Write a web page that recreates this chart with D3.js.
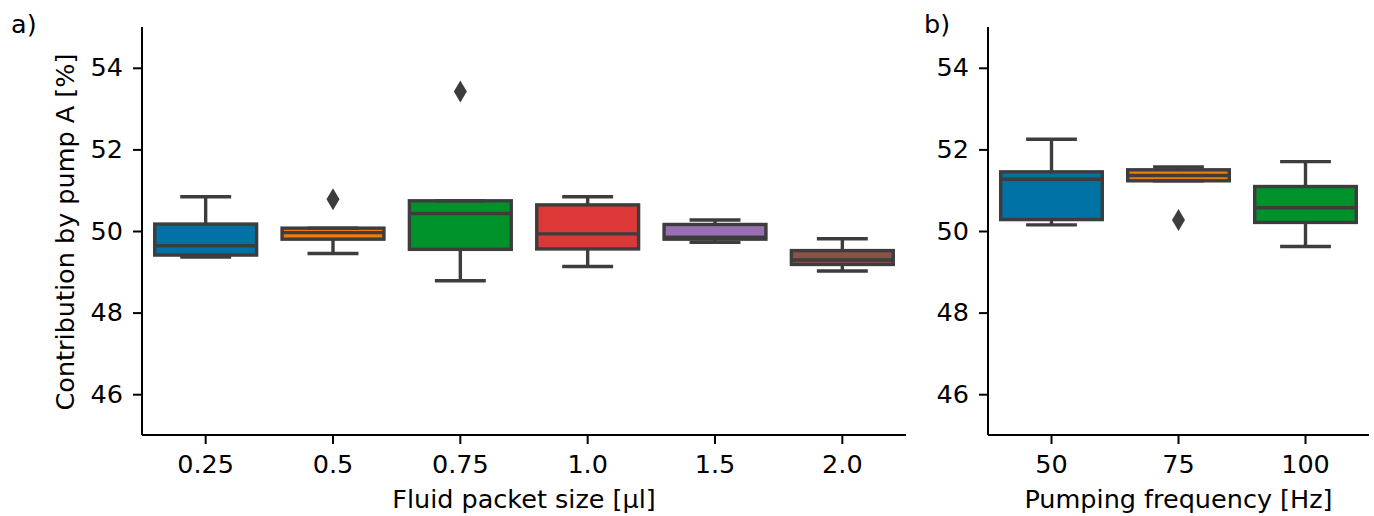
<!DOCTYPE html>
<html>
<head>
<meta charset="utf-8">
<script src="https://cdn.jsdelivr.net/npm/d3@7"></script>
<style>
  body { margin: 0; background: #fff; }
  svg text { font-family: "DejaVu Sans", sans-serif; fill: #000; }
</style>
</head>
<body>
<svg id="chart" width="1374" height="516"></svg>
<script>
// Panel a) fluid packet size
const sizeCats = ["0.25", "0.5", "0.75", "1.0", "1.5", "2.0"];
const sizeLow  = [49.36, 49.45, 48.78, 49.13, 49.72, 49.02];
const sizeQ1   = [49.41, 49.80, 49.55, 49.56, 49.80, 49.18];
const sizeMed  = [49.64, 49.96, 50.43, 49.93, 49.85, 49.29];
const sizeQ3   = [50.17, 50.07, 50.74, 50.64, 50.16, 49.52];
const sizeHigh = [50.84, 50.07, 50.74, 50.84, 50.27, 49.81];
const sizeOut  = [[], [50.78], [53.42], [], [], []];

// Panel b) pumping frequency
const freqCats = ["50", "75", "100"];
const freqLow  = [50.15, 51.23, 49.62];
const freqQ1   = [50.28, 51.23, 50.21];
const freqMed  = [51.27, 51.36, 50.57];
const freqQ3   = [51.45, 51.50, 51.09];
const freqHigh = [52.25, 51.57, 51.70];
const freqOut  = [[], [50.27], []];

const yTicks = [46, 48, 50, 52, 54];
const palette = ["#0072a6", "#ee7b0e", "#00922a", "#dc3838", "#9b6fb4", "#8b5248"];
const edge = "#3d3d3d";
const fontSize = "25.5px";

const svg = d3.select("#chart");
const plotTop = 27, plotBottom = 435;

const y = d3.scaleLinear().domain([45, 55]).range([plotBottom, plotTop]);

function drawPanel(cats, low, q1, med, q3, high, outs, x0, x1, xLabel, letter, letterX) {
    const g = svg.append("g");

    const x = d3.scaleBand()
        .domain(cats)
        .range([x0, x1])
        .paddingInner(0.2)
        .paddingOuter(0.1);

    const stats = cats.map((c, i) => ({
        cat: c, low: low[i], q1: q1[i], med: med[i], q3: q3[i], high: high[i],
        outs: outs[i], color: palette[i]
    }));

    const bw = x.bandwidth();
    const box = g.selectAll("g.box")
        .data(stats)
        .enter()
        .append("g")
        .attr("class", "box");

    // boxes
    box.append("rect")
        .attr("x", d => x(d.cat))
        .attr("y", d => y(d.q3))
        .attr("width", bw)
        .attr("height", d => y(d.q1) - y(d.q3))
        .attr("fill", d => d.color)
        .attr("stroke", edge)
        .attr("stroke-width", 3.4);

    // whiskers
    box.append("line")
        .attr("x1", d => x(d.cat) + bw / 2)
        .attr("x2", d => x(d.cat) + bw / 2)
        .attr("y1", d => y(d.q3))
        .attr("y2", d => y(d.high))
        .attr("stroke", edge).attr("stroke-width", 3.4);
    box.append("line")
        .attr("x1", d => x(d.cat) + bw / 2)
        .attr("x2", d => x(d.cat) + bw / 2)
        .attr("y1", d => y(d.q1))
        .attr("y2", d => y(d.low))
        .attr("stroke", edge).attr("stroke-width", 3.4);

    // caps
    ["high", "low"].forEach(k => {
        box.append("line")
            .attr("x1", d => x(d.cat) + bw / 4)
            .attr("x2", d => x(d.cat) + bw * 3 / 4)
            .attr("y1", d => y(d[k]))
            .attr("y2", d => y(d[k]))
            .attr("stroke", edge).attr("stroke-width", 3.4);
    });

    // medians
    box.append("line")
        .attr("x1", d => x(d.cat))
        .attr("x2", d => x(d.cat) + bw)
        .attr("y1", d => y(d.med))
        .attr("y2", d => y(d.med))
        .attr("stroke", edge).attr("stroke-width", 3.4);

    // outliers (thin diamonds)
    box.selectAll("path.out")
        .data(d => d.outs.map(v => ({ cat: d.cat, v: v })))
        .enter()
        .append("path")
        .attr("class", "out")
        .attr("d", "M0,-11L6.5,0L0,11L-6.5,0Z")
        .attr("transform", d => `translate(${x(d.cat) + bw / 2},${y(d.v)})`)
        .attr("fill", edge);

    // axes
    const xAxis = g.append("g")
        .attr("transform", `translate(0,${plotBottom})`)
        .call(d3.axisBottom(x).tickSizeOuter(0).tickSize(9).tickPadding(11));
    const yAxis = g.append("g")
        .attr("transform", `translate(${x0},0)`)
        .call(d3.axisLeft(y).tickValues(yTicks).tickSizeOuter(0).tickSize(9).tickPadding(10));

    [xAxis, yAxis].forEach(a => {
        a.select(".domain").attr("stroke", "#000").attr("stroke-width", 2);
        a.selectAll(".tick line").attr("stroke", "#000").attr("stroke-width", 2);
        a.selectAll(".tick text").style("font-size", fontSize).attr("fill", "#000");
    });
    xAxis.select(".domain").attr("d", `M${x0},0H${x1}`);
    yAxis.select(".domain").attr("d", `M0,${plotTop}V${plotBottom}`);

    g.append("text")
        .attr("x", (x0 + x1) / 2)
        .attr("y", 508)
        .attr("text-anchor", "middle")
        .style("font-size", fontSize)
        .text(xLabel);

    g.append("text")
        .attr("x", letterX)
        .attr("y", 33)
        .style("font-size", fontSize)
        .text(letter);
}

drawPanel(sizeCats, sizeLow, sizeQ1, sizeMed, sizeQ3, sizeHigh, sizeOut,
          142, 906, "Fluid packet size [µl]", "a)", 11);
drawPanel(freqCats, freqLow, freqQ1, freqMed, freqQ3, freqHigh, freqOut,
          988, 1369, "Pumping frequency [Hz]", "b)", 924);

// y axis label (panel a only)
svg.append("text")
    .attr("transform", "translate(74,232) rotate(-90)")
    .attr("text-anchor", "middle")
    .style("font-size", fontSize)
    .text("Contribution by pump A [%]");
</script>
</body>
</html>
